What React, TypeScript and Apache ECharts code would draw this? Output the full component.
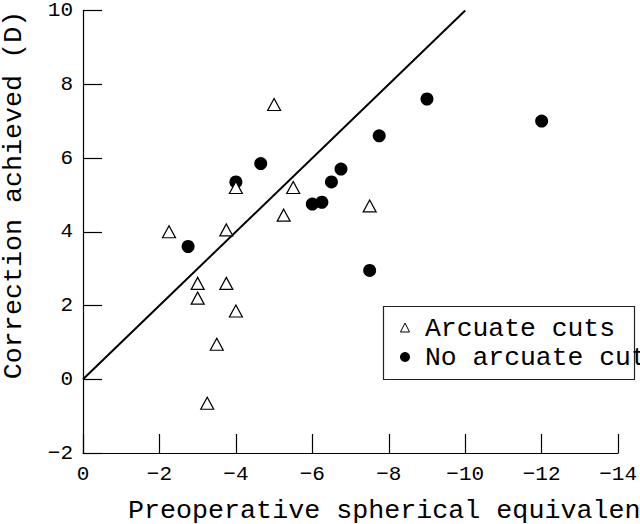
import React, { useEffect, useRef } from "react";
import * as echarts from "echarts";

const arcuateX = [-2.25, -5.0, -4.0, -3.75, -5.5, -5.25, -7.5, -3.0, -3.0, -3.75, -4.0, -3.5, -3.25];
const arcuateY = [4.0, 7.45, 5.2, 4.05, 5.2, 4.45, 4.7, 2.6, 2.2, 2.6, 1.85, 0.95, -0.65];
const noArcX = [-2.75, -4.0, -4.65, -6.0, -6.25, -6.5, -6.75, -7.75, -9.0, -12.0, -7.5];
const noArcY = [3.6, 5.35, 5.85, 4.75, 4.8, 5.35, 5.7, 6.6, 7.6, 7.0, 2.95];
const lineX = [0, -10];
const lineY = [0, 10];
const seriesNames = ["Arcuate cuts", "No arcuate cuts"];
const xTitle = "Preoperative spherical equivalent (D)";
const yTitle = "Correction achieved (D)";

const FONT = "'Liberation Mono', 'DejaVu Sans Mono', monospace";
const fmt = (v: number) => (v < 0 ? "\u2212" + Math.abs(v) : String(v));

export default function App() {
  const ref = useRef<HTMLDivElement>(null);
  useEffect(() => {
    if (!ref.current) return;
    const chart = echarts.init(ref.current, undefined, { renderer: "svg" });
    const axisCommon = {
      type: "value" as const,
      interval: 2,
      axisLine: { show: true, onZero: false, lineStyle: { color: "#000", width: 1.2 } },
      axisTick: { show: true, inside: true, length: 19, lineStyle: { color: "#000", width: 1.2 } },
      splitLine: { show: false },
      axisLabel: { color: "#000", fontFamily: FONT, fontSize: 21, formatter: fmt },
    };
    chart.setOption({
      animation: false,
      backgroundColor: "#fff",
      grid: { left: 83, right: 10, top: 6, bottom: 71 },
      xAxis: {
        ...axisCommon,
        min: -14,
        max: 0,
        inverse: true,
        axisLabel: { ...axisCommon.axisLabel, margin: 11 },
      },
      yAxis: {
        ...axisCommon,
        min: -2,
        max: 10,
        axisLabel: { ...axisCommon.axisLabel, margin: 10 },
      },
      series: [
        {
          type: "line",
          data: lineX.map((x, i) => [x, lineY[i]]),
          showSymbol: false,
          symbol: "none",
          lineStyle: { color: "#000", width: 2 },
          z: 1,
        },
        {
          name: seriesNames[0],
          type: "scatter",
          symbol: "triangle",
          symbolSize: [13, 12],
          data: arcuateX.map((x, i) => [x, arcuateY[i]]),
          itemStyle: { color: "#fff", borderColor: "#000", borderWidth: 1.2, opacity: 1 },
          z: 3,
        },
        {
          name: seriesNames[1],
          type: "scatter",
          symbol: "circle",
          symbolSize: 13,
          data: noArcX.map((x, i) => [x, noArcY[i]]),
          itemStyle: { color: "#000", opacity: 1 },
          z: 2,
        },
      ],
      graphic: [
        {
          type: "text",
          x: 128,
          y: 511,
          style: { text: xTitle, font: `26.7px ${FONT}`, fill: "#000", align: "left", verticalAlign: "middle" },
        },
        {
          type: "text",
          x: 14,
          y: 195,
          rotation: Math.PI / 2,
          style: { text: yTitle, font: `26.7px ${FONT}`, fill: "#000", align: "center", verticalAlign: "middle" },
        },
        {
          type: "rect",
          shape: { x: 383.5, y: 306.5, width: 251, height: 73 },
          style: { fill: "#fff", stroke: "#222", lineWidth: 1.2 },
          z: 10,
        },
        {
          type: "polygon",
          shape: { points: [[405, 323], [400.5, 332], [409.5, 332]] },
          style: { fill: "#fff", stroke: "#000", lineWidth: 1 },
          z: 11,
        },
        {
          type: "circle",
          shape: { cx: 405, cy: 357, r: 5 },
          style: { fill: "#000" },
          z: 11,
        },
        {
          type: "text",
          x: 425,
          y: 329,
          style: { text: seriesNames[0], font: `26.4px ${FONT}`, fill: "#000", verticalAlign: "middle" },
          z: 11,
        },
        {
          type: "text",
          x: 425,
          y: 358,
          style: { text: seriesNames[1], font: `26.4px ${FONT}`, fill: "#000", verticalAlign: "middle" },
          z: 11,
        },
      ],
    });
    return () => chart.dispose();
  }, []);
  return (
    <div
      ref={ref}
      style={{ position: "fixed", left: 0, top: 0, width: 640, height: 524, overflow: "hidden" }}
    />
  );
}
